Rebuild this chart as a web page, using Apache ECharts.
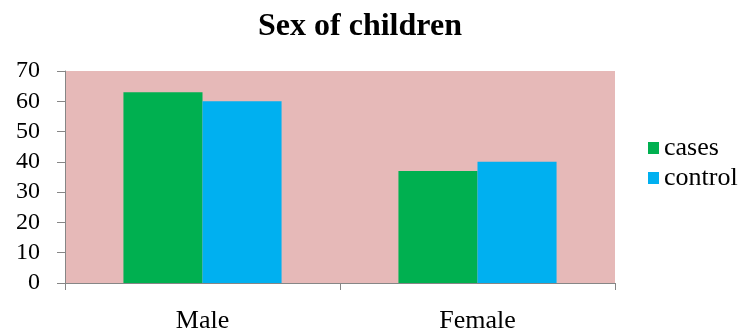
<!DOCTYPE html>
<html>
<head>
<meta charset="utf-8">
<script src="https://cdn.jsdelivr.net/npm/echarts@6/dist/echarts.min.js"></script>
<style>
  html, body { margin: 0; padding: 0; background: #fff; }
  #chart { width: 743px; height: 335px; }
</style>
</head>
<body>
<div id="chart"></div>
<script>
// Sex distribution of children, cases vs control (%)
const categories = ['Male', 'Female'];
const casesValues = [63, 37];
const controlValues = [60, 40];
const seriesNames = ['cases', 'control'];

const serif = 'Liberation Serif';

const chart = echarts.init(document.getElementById('chart'));
chart.setOption({
  animation: false,
  backgroundColor: '#ffffff',
  textStyle: { fontFamily: serif },
  title: {
    text: 'Sex of children',
    left: 355,
    textAlign: 'center',
    top: 6,
    textStyle: { fontFamily: serif, fontWeight: 'bold', fontSize: 32, color: '#000' }
  },
  legend: {
    orient: 'vertical',
    left: 643,
    top: 130,
    itemWidth: 11,
    itemHeight: 12,
    itemGap: 4,
    itemStyle: { borderWidth: 0 },
    icon: 'rect',
    formatter: '{t|{name}}',
    textStyle: {
      fontFamily: serif, fontSize: 26, color: '#000',
      rich: { t: { fontFamily: serif, fontSize: 26, color: '#000' } }
    },
    data: seriesNames
  },
  grid: {
    left: 65,
    right: 128,
    top: 71,
    bottom: 52,
    show: true,
    backgroundColor: '#E6B9B8',
    borderWidth: 0
  },
  xAxis: {
    type: 'category',
    data: categories,
    axisLine: { lineStyle: { color: '#868686' } },
    axisTick: { show: true, length: 7, lineStyle: { color: '#868686' } },
    axisLabel: { fontFamily: serif, fontSize: 26, color: '#000', margin: 25 }
  },
  yAxis: {
    type: 'value',
    min: 0,
    max: 70,
    interval: 10,
    axisLine: { show: true, lineStyle: { color: '#868686' } },
    axisTick: { show: true, length: 8, lineStyle: { color: '#868686' } },
    splitLine: { show: false },
    axisLabel: { fontFamily: serif, fontSize: 24, color: '#000', margin: 25 }
  },
  series: [
    {
      name: seriesNames[0],
      type: 'bar',
      data: casesValues,
      barGap: '0%',
      barCategoryGap: '42.5%',
      itemStyle: { color: '#00B050' }
    },
    {
      name: seriesNames[1],
      type: 'bar',
      data: controlValues,
      itemStyle: { color: '#00B0F0' }
    }
  ]
});
</script>
</body>
</html>
